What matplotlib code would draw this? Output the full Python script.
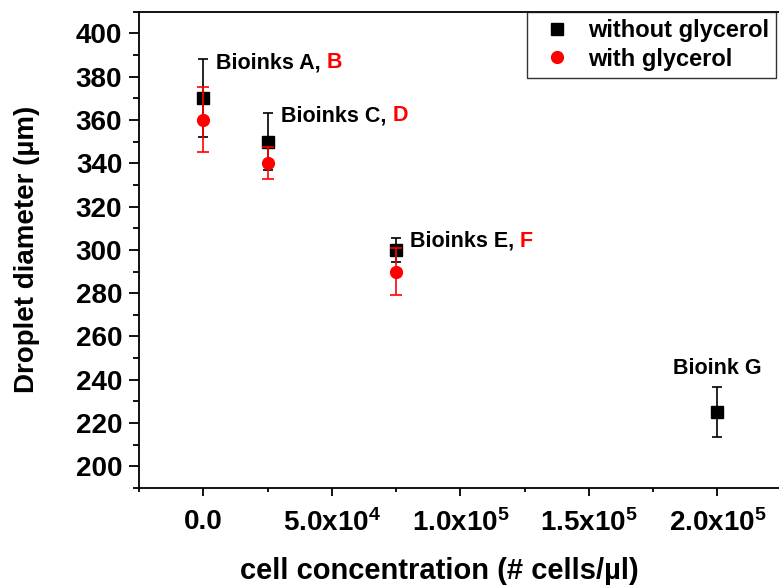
import numpy as np
import matplotlib
matplotlib.use("Agg")
import matplotlib.pyplot as plt
from matplotlib.ticker import MultipleLocator, FixedLocator
from matplotlib.lines import Line2D

plt.rcParams["font.family"] = ["Liberation Sans", "DejaVu Sans"]
plt.rcParams["font.weight"] = "bold"
plt.rcParams["mathtext.fontset"] = "custom"
plt.rcParams["mathtext.rm"] = "Liberation Sans:bold"
plt.rcParams["mathtext.bf"] = "Liberation Sans:bold"
plt.rcParams["mathtext.it"] = "Liberation Sans:bold:italic"
plt.rcParams["mathtext.default"] = "rm"

# cell concentration (# cells/ul)
conc_no_gly = [0, 25000, 75000, 200000]
diam_no_gly = [370, 350, 300, 225]
err_no_gly = [18, 13, 5.5, 11.5]

conc_gly = [0, 25000, 75000]
diam_gly = [360, 340, 290]
err_gly = [15, 7.5, 11]

ink_names = ["Bioinks A, ", "Bioinks C, ", "Bioinks E, ", "Bioink G"]
ink_red = ["B", "D", "F", ""]
label_x = [4900, 30400, 80300, 200000]
label_y = [386.5, 362, 304, 245]

xtick_vals = [0, 50000, 100000, 150000, 200000]
xtick_labels = ["0.0", "5.0x10$^{4}$", "1.0x10$^{5}$", "1.5x10$^{5}$", "2.0x10$^{5}$"]

W, H = 779, 586
fig = plt.figure(figsize=(W / 100, H / 100), dpi=100)
ax = fig.add_axes([139 / W, (H - 488) / H, (781.75 - 139) / W, (488 - 11.7) / H])

ax.errorbar(conc_no_gly, diam_no_gly, yerr=err_no_gly, fmt="s", color="black",
            markersize=8, elinewidth=1.2, capsize=3.5, capthick=1.2, zorder=3)
ax.errorbar(conc_gly, diam_gly, yerr=err_gly, fmt="o", color="red",
            markersize=8.5, elinewidth=1.2, capsize=4, capthick=1.2, zorder=4)

for name, red, lx, ly in zip(ink_names, ink_red, label_x, label_y):
    if red:
        t = ax.text(lx, ly, name, fontsize=15.5, fontweight="bold", color="black",
                    ha="left", va="center")
        ax.annotate(red, xy=(1, 0), xycoords=t, fontsize=15.5, fontweight="bold",
                    color="red", ha="left", va="bottom")
    else:
        ax.text(lx, ly, name, fontsize=15.5, fontweight="bold", color="black",
                ha="center", va="center")

ax.set_xlim(-25000, 225000)
ax.set_ylim(190, 410)
ax.xaxis.set_major_locator(FixedLocator(xtick_vals))
ax.set_xticklabels(xtick_labels)
ax.xaxis.set_minor_locator(MultipleLocator(25000))
ax.yaxis.set_major_locator(MultipleLocator(20))
ax.yaxis.set_minor_locator(MultipleLocator(10))

ax.tick_params(which="major", direction="out", length=7, width=1.3,
               labelsize=20, pad=5)
ax.tick_params(which="minor", direction="out", length=4, width=1.3)
ax.tick_params(axis="x", which="major", length=6, pad=9)
ax.tick_params(axis="x", which="minor", length=3)
for lbl in ax.get_xticklabels() + ax.get_yticklabels():
    lbl.set_fontweight("bold")

for s in ax.spines.values():
    s.set_linewidth(1.3)

ax.set_xlabel("cell concentration (# cells/µl)", fontsize=21, fontweight="bold")
ax.xaxis.set_label_coords(0.468, -0.145)
ax.set_ylabel("Droplet diameter (µm)", fontsize=20, fontweight="bold")
ax.yaxis.set_label_coords(-0.154, 0.5)

handles = [Line2D([], [], marker="s", color="black", linestyle="none", markersize=8),
           Line2D([], [], marker="o", color="red", linestyle="none", markersize=8.5)]
leg = fig.legend(handles, ["without glycerol", "with glycerol"],
                 loc="upper right", bbox_to_anchor=(776 / W, 1 - 11.7 / H),
                 borderaxespad=0, frameon=True, fancybox=False,
                 edgecolor="black", handletextpad=0.35, handlelength=1.95,
                 labelspacing=0.25, borderpad=0.3, prop={"weight": "bold", "size": 17})
leg.get_frame().set_linewidth(1.0)

fig.savefig("out.png", dpi=100)
